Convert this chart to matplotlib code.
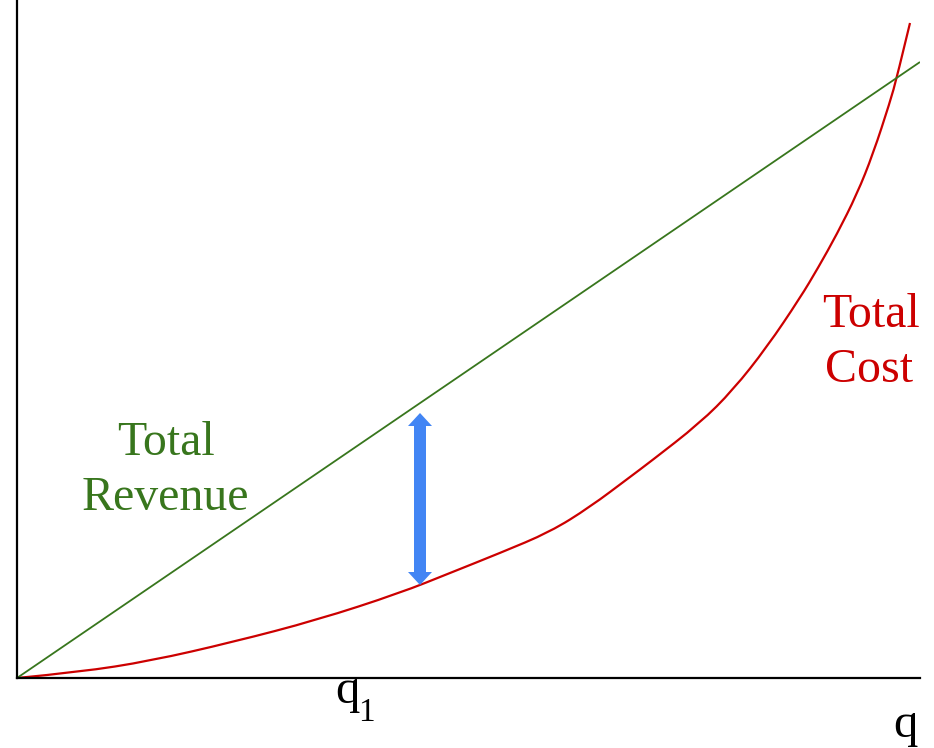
import matplotlib
matplotlib.use('Agg')
import matplotlib.pyplot as plt
from matplotlib.path import Path
from matplotlib.patches import PathPatch

plt.rcParams['font.family'] = ['Liberation Serif', 'DejaVu Serif']

# quantity / value units
revenue_q = [0, 903]
revenue_v = [0, 616]

cost_q = [0, 63, 133, 216, 300, 383, 433, 483, 533, 573, 613, 633, 683, 716,
          750, 783, 801, 820, 840, 856, 873, 880, 893]
cost_v = [0, 6, 17, 36, 58, 85, 105, 125, 146, 171, 201, 216, 255, 288,
          331, 380, 410, 444, 484, 524, 576, 601, 655]

q1 = 403
profit_low = 93
profit_high = 265

green = '#38761d'
red = '#cc0000'
blue = '#4285f4'


def smooth_path(xs, ys):
    # quadratic bezier through midpoints, the read points act as controls
    pts = list(zip(xs, ys))
    verts = [pts[0]]
    codes = [Path.MOVETO]
    for i in range(1, len(pts) - 1):
        m = ((pts[i][0] + pts[i + 1][0]) / 2, (pts[i][1] + pts[i + 1][1]) / 2)
        if i == len(pts) - 2:
            m = pts[-1]
        verts += [pts[i], m]
        codes += [Path.CURVE3, Path.CURVE3]
    return Path(verts, codes)


fig = plt.figure(figsize=(9.34, 7.48), dpi=100)
ax = fig.add_axes([17 / 934, 70 / 748, 903 / 934, 677 / 748])
ax.set_xlim(0, 903)
ax.set_ylim(0, 677)

ax.plot(revenue_q, revenue_v, color=green, lw=1.3, solid_capstyle='butt')
ax.add_patch(PathPatch(smooth_path(cost_q, cost_v), fill=False, edgecolor=red,
                       lw=1.6, clip_on=False))

# double headed arrow = profit gap at q1
mid = (profit_low + profit_high) / 2
half = (profit_high - profit_low) / 2
for sign in (1, -1):
    ax.arrow(q1, mid, 0, sign * half, width=12, head_width=24, head_length=13,
             length_includes_head=True, color=blue, lw=0)

for s in ['top', 'right']:
    ax.spines[s].set_visible(False)
for s in ['left', 'bottom']:
    ax.spines[s].set_linewidth(1.6)
ax.set_xticks([])
ax.set_yticks([])

ax.text(149, 223, 'Total', color=green, fontsize=34.5, ha='center', va='baseline')
ax.text(148, 168, 'Revenue', color=green, fontsize=34.5, ha='center', va='baseline')
ax.text(854, 351, 'Total', color=red, fontsize=34.5, ha='center', va='baseline')
ax.text(852, 296, 'Cost', color=red, fontsize=34.5, ha='center', va='baseline')

ax.text(318, -25, 'q', fontsize=35, ha='left', va='baseline')
ax.text(341, -43, '1', fontsize=24, ha='left', va='baseline')
ax.text(876, -59, 'q', fontsize=35, ha='left', va='baseline')

fig.savefig('out.png', dpi=100)
